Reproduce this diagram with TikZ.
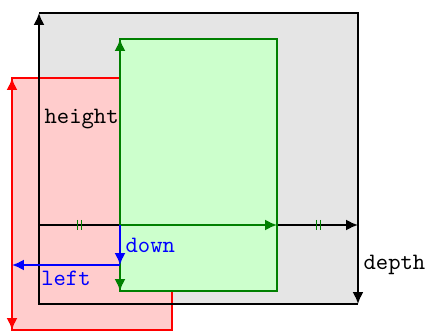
\documentclass[tikz,border=0pt]{standalone}
\usetikzlibrary{arrows.meta}
\begin{document}
\begin{tikzpicture}[x=0.4255pt,y=-0.4255pt, line width=0.8pt, font=\ttfamily,
  arr/.style={-{Latex[length=5pt,width=4.6pt]}},
  grn/.style={draw=green!50!black},
  tick/.style={green!50!black, line width=0.4pt}]
\useasboundingbox (0,0) rectangle (428,332);
% gray box
\coordinate (o) at (39,225);
\coordinate (gtl) at (39,13);
\coordinate (gtr) at (358,13);
\coordinate (gmr) at (358,225);
\coordinate (gbr) at (358,304);
\coordinate (gbl) at (39,304);
% green box
\coordinate (go) at (120,225);
\coordinate (gnt) at (120,39);
\coordinate (gnb) at (120,291);
\coordinate (gnr) at (277,225);
% red box
\coordinate (rc) at (12,265);
\coordinate (rt) at (12,78);
\coordinate (rb) at (12,330);
\coordinate (bd) at (120,265);

\fill[black!10] (gtl) rectangle (gbr);
\draw[red, fill=red!20] (12,78) rectangle (172,330);
\draw[red, arr] (rc) -- (rt);
\draw[red, arr] (rc) -- (rb);

\draw (gtl) -- (gtr) -- (gmr);
\draw (o) -- (gbl) -- (gbr);
\draw[arr] (o) -- node[right, inner sep=2pt] (lh) {height} (gtl);
\draw[arr] (o) -- node[above, inner sep=2pt, pos=0.5] (lw) {width} (gmr);
\draw[arr] (gmr) -- node[right, inner sep=2pt] (ld) {depth} (gbr);

\draw[grn, fill=green!20] (120,39) rectangle (277,291);
\draw[green!50!black, arr] (go) -- (gnt);
\draw[green!50!black, arr] (go) -- (gnb);
\draw[green!50!black, arr] (go) -- (gnr);

\draw[tick] (77,220) -- (77,230) (81,220) -- (81,230);
\draw[tick] (316,220) -- (316,230) (320,220) -- (320,230);

\draw[blue, arr] (go) -- node[right, inner sep=2pt] (ldn) {down} (bd);
\draw[blue, arr] (bd) -- node[below, inner sep=2pt] (ll) {left} (rc);
\end{tikzpicture}
\end{document}
